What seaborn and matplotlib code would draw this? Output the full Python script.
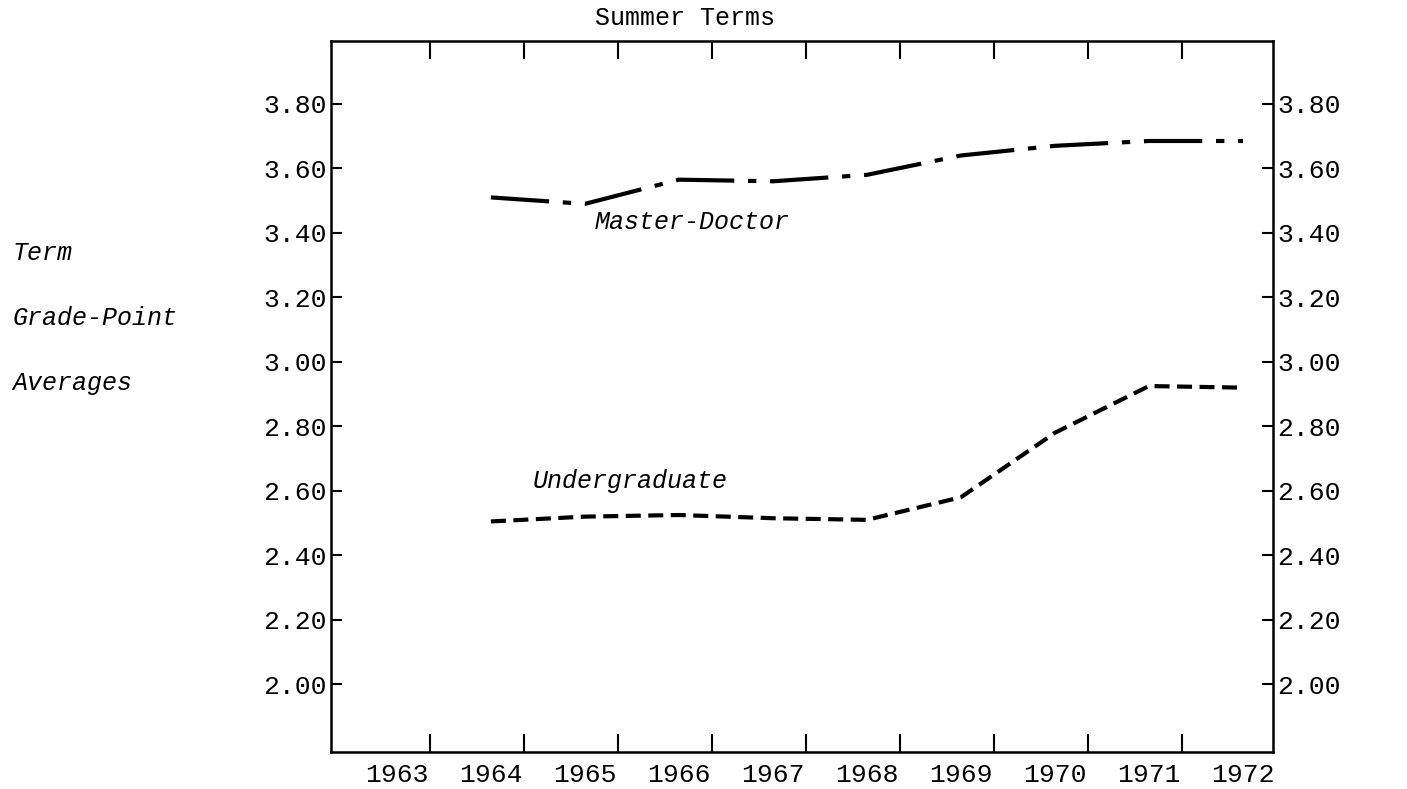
import numpy as np
import pandas as pd
import matplotlib
matplotlib.use("Agg")
import matplotlib.pyplot as plt
import seaborn as sns

# values
years = [1964, 1965, 1966, 1967, 1968, 1969, 1970, 1971, 1972]
master_doctor = [3.51, 3.49, 3.565, 3.56, 3.58, 3.64, 3.67, 3.685, 3.685]
undergraduate = [2.505, 2.52, 2.525, 2.515, 2.51, 2.58, 2.78, 2.925, 2.92]

year_labels = [1963, 1964, 1965, 1966, 1967, 1968, 1969, 1970, 1971, 1972]
separators = [1963.35, 1964.35, 1965.35, 1966.35, 1967.35, 1968.35, 1969.35, 1970.35, 1971.35]
gpa_ticks = [2.00, 2.20, 2.40, 2.60, 2.80, 3.00, 3.20, 3.40, 3.60, 3.80]

df = pd.DataFrame({
    "year": years * 2,
    "gpa": master_doctor + undergraduate,
    "group": ["Master-Doctor"] * len(years) + ["Undergraduate"] * len(years),
})

sns.set_style("ticks")
plt.rcParams["font.family"] = ["Liberation Mono", "DejaVu Sans Mono"]
plt.rcParams["text.color"] = "black"
plt.rcParams["xtick.color"] = "black"
plt.rcParams["ytick.color"] = "black"

fig = plt.figure(figsize=(14.07, 7.89), dpi=100)
ax = fig.add_axes([0.2353, 0.0469, 0.6695, 0.9011])

sns.lineplot(data=df, x="year", y="gpa", style="group",
             dashes={"Master-Doctor": (14, 3.3, 2, 3.3), "Undergraduate": (3.6, 1.8)},
             color="black", linewidth=3, legend=False, ax=ax)

ax.set_xlim(1962.30, 1972.32)
ax.set_ylim(1.79, 3.995)
ax.set_xlabel("")
ax.set_ylabel("")

ax.set_xticks(year_labels)
ax.set_xticklabels([str(y) for y in year_labels])
ax.set_xticks(separators, minor=True)
ax.tick_params(axis="x", which="major", length=0, pad=8, labelsize=19,
               labelcolor="black")
ax.tick_params(axis="x", which="minor", direction="in", length=13, width=1.5,
               top=True, bottom=True, color="black")

ax.set_yticks(gpa_ticks)
ax.set_yticklabels([f"{v:.2f}" for v in gpa_ticks])
ax.yaxis.set_minor_locator(matplotlib.ticker.NullLocator())
ax.tick_params(axis="y", which="major", direction="in", length=8, width=1.5,
               left=True, right=True, labelleft=True, labelright=True,
               pad=3, labelsize=19, color="black", labelcolor="black")

for s in ax.spines.values():
    s.set_visible(True)
    s.set_linewidth(1.8)
    s.set_color("black")

# series labels
ax.text(1965.1, 3.435, "Master-Doctor", style="italic", fontsize=18,
        ha="left", va="center", color="black")
ax.text(1964.44, 2.63, "Undergraduate", style="italic", fontsize=18,
        ha="left", va="center", color="black")

# title and left-hand axis caption
fig.text(0.487, 0.977, "Summer Terms", fontsize=18, ha="center", va="center")
fig.text(0.009, 1 - 253 / 789, "Term", style="italic", fontsize=18, ha="left", va="center")
fig.text(0.009, 1 - 318 / 789, "Grade-Point", style="italic", fontsize=18, ha="left", va="center")
fig.text(0.009, 1 - 383 / 789, "Averages", style="italic", fontsize=18, ha="left", va="center")

fig.savefig("out.png", dpi=100, facecolor="white")
